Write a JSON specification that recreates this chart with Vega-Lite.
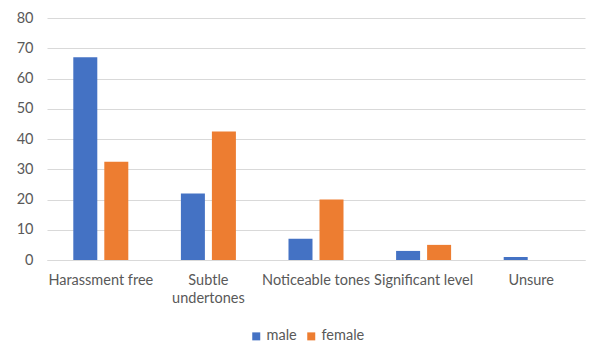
{
  "$schema": "https://vega.github.io/schema/vega-lite/v6.json",
  "width": 538,
  "height": 242,
  "autosize": {"type": "none"},
  "padding": {"left": 47, "top": 18, "right": 4, "bottom": 84},
  "background": "white",
  "config": {
    "view": {"stroke": null},
    "font": "Lato",
    "axis": {"labelFont": "Lato", "labelColor": "#595959", "labelFontSize": 14.5},
    "legend": {"labelFont": "Lato", "labelColor": "#595959", "labelFontSize": 14.5}
  },
  "data": {
    "values": [
      {"category": "Harassment free", "gender": "male", "value": 67},
      {"category": "Harassment free", "gender": "female", "value": 32.5},
      {"category": "Subtle undertones", "gender": "male", "value": 22},
      {"category": "Subtle undertones", "gender": "female", "value": 42.5},
      {"category": "Noticeable tones", "gender": "male", "value": 7},
      {"category": "Noticeable tones", "gender": "female", "value": 20},
      {"category": "Significant level", "gender": "male", "value": 3},
      {"category": "Significant level", "gender": "female", "value": 5},
      {"category": "Unsure", "gender": "male", "value": 1},
      {"category": "Unsure", "gender": "female", "value": 0}
    ]
  },
  "mark": {"type": "bar"},
  "encoding": {
    "x": {
      "field": "category",
      "type": "nominal",
      "sort": ["Harassment free", "Subtle undertones", "Noticeable tones", "Significant level", "Unsure"],
      "scale": {"paddingInner": 0, "paddingOuter": 0},
      "axis": {
        "title": null,
        "labelAngle": 0,
        "ticks": false,
        "domainColor": "#d9d9d9",
        "labelPadding": 13,
        "labelLimit": 200,
        "labelBaseline": "top",
        "labelLineHeight": 18.5,
        "labelOverlap": false,
        "labelExpr": "datum.label == 'Subtle undertones' ? ['Subtle', 'undertones'] : datum.label"
      }
    },
    "xOffset": {
      "field": "gender",
      "type": "nominal",
      "sort": ["male", "female"],
      "scale": {"paddingInner": 0.226, "paddingOuter": 0.848}
    },
    "y": {
      "field": "value",
      "type": "quantitative",
      "scale": {"domain": [0, 80], "nice": false},
      "axis": {
        "title": null,
        "values": [0, 10, 20, 30, 40, 50, 60, 70, 80],
        "labelOverlap": false,
        "domain": false,
        "ticks": false,
        "gridColor": "#d9d9d9",
        "labelPadding": 14
      }
    },
    "color": {
      "field": "gender",
      "type": "nominal",
      "sort": ["male", "female"],
      "scale": {"domain": ["male", "female"], "range": ["#4472C4", "#ED7D31"]},
      "legend": {
        "title": null,
        "orient": "none",
        "direction": "horizontal",
        "legendX": 202,
        "legendY": 311,
        "symbolType": "square",
        "symbolSize": 64,
        "symbolStrokeWidth": 0,
        "labelOffset": 3,
        "columnPadding": 7
      }
    }
  }
}
